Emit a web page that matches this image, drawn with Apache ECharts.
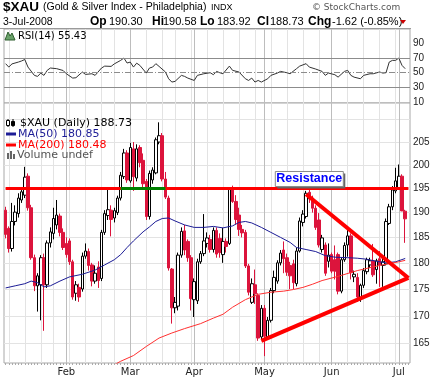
<!DOCTYPE html>
<html><head><meta charset="utf-8">
<script src="https://cdn.jsdelivr.net/npm/echarts@6/dist/echarts.min.js"></script>
<style>html,body{margin:0;padding:0;background:#fff}#c{width:438px;height:380px}</style>
</head><body><div id="c"></div>
<script>
// ---- calendar (trading days) ----
const holidays = ['2008-01-21','2008-02-18','2008-03-21','2008-05-26'];
const monthNames = ['Jan','Feb','Mar','Apr','May','Jun','Jul','Aug','Sep','Oct','Nov','Dec'];
// ---- price data ----
const openP  = [190.5,186.8,182.8,188.2,189.8,192.6,193.6,197.6,191.0,181.0,175.6,175.8,181.0,175.8,183.9,185.8,187.5,189.3,186.0,183.8,
184.3,180.2,174.2,175.3,175.0,181.3,182.2,179.6,176.5,179.2,177.0,186.0,189.4,190.5,188.9,190.0,193.0,197.5,202.6,196.6,
203.5,197.2,203.8,201.0,196.5,189.2,196.8,198.3,205.0,206.4,197.0,193.0,178.8,171.5,171.8,181.5,186.3,184.2,181.0,173.0,
172.8,180.2,181.8,183.8,184.6,182.6,186.4,184.8,181.6,184.2,183.8,195.2,192.3,189.5,186.6,186.0,179.4,172.5,175.8,173.8,
166.2,171.4,166.2,169.2,174.7,176.5,180.0,182.5,181.0,179.5,179.8,176.0,182.3,188.0,189.2,194.2,193.0,190.9,188.5,182.6,
183.5,180.3,181.6,180.6,181.6,174.6,180.6,183.5,185.3,177.3,177.2,173.1,175.7,178.3,179.6,180.4,178.7,180.8,179.5,179.8,
187.8,191.2,194.5,195.2,197.6,190.30];
const highP  = [191.2,187.2,192.0,191.5,194.0,195.2,199.6,198.2,191.6,181.6,178.0,181.5,181.8,184.4,187.0,191.0,192.6,189.8,186.8,185.0,
184.8,180.6,176.5,176.0,182.0,183.8,182.8,180.0,179.5,180.3,186.5,190.5,195.0,191.5,191.0,193.5,198.5,203.5,203.2,204.8,
205.0,204.5,204.3,202.5,197.0,198.8,199.5,206.0,209.4,207.0,198.5,193.5,179.0,173.5,182.0,187.0,187.5,184.6,181.5,177.0,
180.8,182.3,189.7,186.0,185.5,187.0,187.0,185.8,186.9,184.8,195.3,195.6,193.6,191.0,187.5,186.5,179.8,177.0,178.7,174.2,
172.0,172.0,169.8,175.2,178.5,180.5,182.5,184.2,181.8,180.2,180.6,183.0,189.0,190.5,194.5,195.5,193.5,191.5,189.9,185.5,
184.0,183.8,182.0,183.4,182.0,181.0,184.0,186.5,185.8,178.5,178.0,176.0,179.0,181.0,181.0,183.7,180.8,182.3,181.0,188.8,
191.8,195.5,199.4,200.1,198.0,190.58];
const lowP   = [184.8,182.0,182.2,187.4,189.0,192.0,193.0,190.4,180.6,174.6,170.8,169.2,167.3,175.2,183.0,184.6,186.6,185.2,182.5,181.0,
179.6,173.0,172.8,172.6,174.5,180.8,178.5,175.5,176.0,175.2,176.5,185.5,188.5,185.2,188.0,189.5,192.5,197.0,196.2,196.2,
194.5,196.5,199.5,195.0,188.5,188.6,196.0,198.0,204.5,196.5,192.8,178.5,168.6,170.5,171.0,181.0,181.5,180.2,171.0,169.8,
172.2,179.8,181.3,183.0,182.0,182.0,181.0,181.0,180.0,182.0,183.5,192.0,187.6,185.3,185.0,179.0,173.8,172.2,172.2,165.5,
165.8,162.8,165.8,168.8,174.2,176.0,179.5,178.0,177.5,175.0,175.0,175.5,182.0,187.2,188.8,192.0,190.0,186.5,183.0,182.0,
177.5,179.1,178.0,176.8,174.0,174.2,180.2,181.2,176.8,176.3,172.6,172.6,175.2,177.8,179.0,177.3,176.0,175.4,175.4,179.5,
187.5,190.5,194.0,194.8,190.3,183.92];
const closeP = [185.6,182.8,188.2,190.1,193.0,194.3,197.4,191.0,181.0,175.6,177.5,181.0,175.8,183.9,186.1,188.8,189.5,186.0,183.0,181.6,
180.2,173.5,175.8,173.5,181.3,182.3,179.5,176.5,178.0,176.6,186.0,189.8,190.6,188.6,190.4,193.0,197.8,202.6,196.8,203.8,
197.5,203.5,200.5,196.0,189.2,198.2,198.9,205.5,206.4,197.0,193.2,179.0,171.5,172.5,181.5,186.2,182.5,181.0,173.2,176.4,
180.2,181.8,184.3,184.9,182.6,186.4,181.7,182.0,184.2,183.2,195.0,192.3,188.6,186.6,185.9,179.4,174.4,176.0,174.1,166.0,
171.4,166.3,169.2,174.7,177.2,180.0,181.9,180.8,178.2,177.5,176.2,182.3,188.3,189.7,194.0,192.8,190.9,187.0,183.5,184.9,
178.0,181.5,178.4,178.4,174.6,180.6,183.4,185.3,178.1,177.8,173.5,175.7,178.5,180.6,180.4,177.7,180.4,179.6,180.2,188.2,
191.2,194.7,196.6,197.6,190.35,188.73];
// moving averages read at points [dayIndex, value]
const ma50 = [[0,175.2],[3,175.6],[6,176.0],[8,176.5],[10,176.2],[12,175.4],[14,175.6],[17,176.5],[20,177.3],[24,177.8],[28,178.6],[31,179.6],
[34,180.6],[36,181.6],[38,183.0],[40,184.3],[43,186.1],[45,187.1],[47,188.2],[49,188.8],[51,188.9],[53,188.3],[56,187.5],[59,187.0],[62,187.0],
[65,187.2],[68,186.9],[71,187.3],[73,188.0],[75,188.2],[77,187.9],[80,187.0],[83,186.0],[86,185.0],[89,184.0],[91,183.0],[94,182.6],[97,182.2],
[100,181.4],[103,181.1],[107,181.0],[110,180.9],[113,180.7],[116,180.3],[119,180.0],[122,180.2],[125,180.85]];
const ma200 = [[33,161.0],[36,161.9],[40,162.9],[44,164.5],[48,166.0],[52,166.9],[56,167.7],[61,168.6],[65,169.6],[68,170.3],[71,171.6],
[75,173.0],[79,174.0],[83,174.4],[87,174.6],[90,174.9],[93,175.3],[96,175.9],[99,176.6],[104,177.4],[110,178.5],[117,179.5],[123,180.2],[125,180.48]];
const rsi = [[0,62.3],[1,57.7],[2,62],[4,64.5],[5,66],[6,68],[7,57.7],[9,46.4],[10,45],[11,49.5],[12,46.4],[13,53.2],[14,56.4],[16,55.5],
[18,53],[19,48.6],[21,42.7],[22,43.2],[24,51],[25,47.7],[27,48.6],[28,46.4],[30,56.4],[31,59],[33,58.6],[34,62],[36,66.8],[37,70],[38,63.2],
[39,64.5],[40,57.7],[41,63],[42,60],[44,49.5],[45,56.4],[46,57.7],[47,62.3],[48,58.6],[50,51],[51,41.8],[52,37.3],[53,38.2],[55,46.4],[56,45],
[57,42.7],[59,39.5],[60,46.4],[62,48.6],[64,50],[65,47.3],[66,51.8],[67,50],[68,48.6],[70,59],[71,53.2],[73,51],[75,41.8],[76,39.5],[77,42.7],
[78,37.3],[79,39.5],[80,37.3],[82,41.8],[83,46.4],[85,49.5],[86,51.8],[88,50],[89,48.6],[91,55.5],[92,59],[94,62.3],[95,57.7],[97,55],[99,51.8],
[100,46.4],[101,49.5],[103,47.3],[104,44],[106,51.8],[107,53.2],[108,46.4],[109,44],[111,41.8],[112,46.4],[114,48.6],[115,48.6],[117,51],
[118,49.5],[119,50],[120,64.5],[121,66.8],[122,66.8],[123,70],[124,60],[125,55.43]];
// ticks / annotations
const priceLabels = [165,170,175,180,185,190,195,200,205];
const priceGrid = [165,170,175,180,185,190,195,200,205,210];
const rsiLabels = [10,30,50,70,90];
const resistance = 195;
const greenSpans = [[5.6,6.4],[36,50],[122.8,123.3]];
const triUpper = [[94.3,193.8],[125.6,177.1]];
const triLower = [[80.2,165.5],[125.6,177.1]];

// build categories
const cats = [];
(function(){
  let t = Date.UTC(2008,0,4); const end = Date.UTC(2008,6,3);
  while (t <= end) {
    const d = new Date(t); const s = d.toISOString().slice(0,10); const wd = d.getUTCDay();
    if (wd !== 0 && wd !== 6 && holidays.indexOf(s) < 0) cats.push(s);
    t += 86400000;
  }
})();
const nData = cats.length;
cats.push('2008-07-07');
function monthStart(i){ return i > 0 && i < nData && cats[i].slice(5,7) !== cats[i-1].slice(5,7); }
function weekStart(i){ if (i <= 0 || i >= nData) return false;
  const a = new Date(cats[i]+'T00:00:00Z').getUTCDay(), b = new Date(cats[i-1]+'T00:00:00Z').getUTCDay(); return a <= b; }

const candles = closeP.map((c,i)=>[openP[i], c, lowP[i], highP[i]]);
const L = 4, R = 28;
const RED = '#dc143c';

function xCat(gridIndex, kind, pos){
  return {type:'category', gridIndex, data:cats, boundaryGap:true, position:pos,
    axisLine:{show:false}, axisTick:{show:false}, axisLabel:{show:false},
    splitLine:{show:true, alignWithLabel:true, interval:(i)=> kind==='m' ? monthStart(i) : weekStart(i),
      lineStyle:{color: kind==='m' ? '#bdbdbd' : '#e3e3e3', width:1}}};
}
const xAxes = [xCat(0,'w','bottom'), xCat(0,'m','top'), xCat(1,'w','bottom'), xCat(1,'m','top')];
xAxes[2].axisLabel = {show:true, interval:(i)=>monthStart(i), formatter:(v)=>monthNames[+v.slice(5,7)-1],
  fontFamily:'DejaVu Sans', fontSize:10, color:'#222', margin:4};
xAxes[2].axisTick = {show:true, interval:0, length:2, alignWithLabel:true, lineStyle:{color:'#aaa'}};

const chart = echarts.init(document.getElementById('c'));
chart.setOption({
  animation:false,
  backgroundColor:'#fff',
  grid:[{left:L, right:R, top:29, height:74, show:true, borderColor:'#a8a8a8', borderWidth:1, backgroundColor:'#fff'},
        {left:L, right:R, top:103, height:260, show:true, borderColor:'#a8a8a8', borderWidth:1, backgroundColor:'#fff'}],
  xAxis: xAxes,
  yAxis:[
    {type:'value', gridIndex:0, position:'right', min:8.8, max:109.5,
      axisLine:{show:false}, axisTick:{show:false}, splitLine:{show:false},
      axisLabel:{customValues:rsiLabels, fontFamily:'Liberation Sans', fontSize:10, color:'#222', margin:3}},
    {type:'log', logBase:10, gridIndex:1, position:'right', min:161.6, max:213.8,
      axisLine:{show:false}, axisTick:{show:false, customValues:priceGrid},
      splitLine:{show:true, lineStyle:{color:'#e3e3e3'}},
      axisLabel:{customValues:priceLabels, fontFamily:'Liberation Sans', fontSize:10, color:'#222', margin:3}}
  ],
  series:[
    {type:'line', xAxisIndex:0, yAxisIndex:0, data:rsi, symbol:'none', connectNulls:true,
      lineStyle:{color:'#333', width:1}, z:3,
      markLine:{silent:true, symbol:'none', label:{show:false},
        data:[{yAxis:70, lineStyle:{color:'#8c8c8c', type:'solid', width:1}},
              {yAxis:30, lineStyle:{color:'#8c8c8c', type:'solid', width:1}},
              {yAxis:50, lineStyle:{color:'#8c8c8c', type:[6,2,1,2], width:1}}]}},
    {type:'candlestick', name:'$XAU', xAxisIndex:2, yAxisIndex:1, data:candles, barWidth:3, z:2,
      itemStyle:{color:'#ffffff', color0:RED, borderColor:'#000000', borderColor0:RED, borderWidth:1}},
    {type:'line', xAxisIndex:2, yAxisIndex:1, data:ma50, symbol:'none', lineStyle:{color:'#1c1c96', width:1}, z:3},
    {type:'line', xAxisIndex:2, yAxisIndex:1, data:ma200, symbol:'none', lineStyle:{color:'#ff3030', width:1}, z:3},
    {type:'line', xAxisIndex:2, yAxisIndex:1, data:[[0,resistance],[nData,resistance]], symbol:'none',
      lineStyle:{color:'#ff0000', width:3}, z:4},
  ].concat(greenSpans.map(s=>({type:'line', xAxisIndex:2, yAxisIndex:1, data:[[s[0],resistance],[s[1],resistance]],
      symbol:'none', lineStyle:{color:'#008000', width:3}, z:5})))
   .concat([triUpper, triLower].map(t=>({type:'line', xAxisIndex:2, yAxisIndex:1, data:t, symbol:'none',
      lineStyle:{color:'#ff0000', width:4}, z:6})))
});

// ---- annotation + header text ----
const anchor = chart.convertToPixel({xAxisIndex:2, yAxisIndex:1}, [94.5, resistance]);
const bx = anchor[0] - 34, by = anchor[1] - 17;
const T = (x,y,text,font,color,extra)=>Object.assign({type:'text', x, y, style:{text, font, fill:color||'#000', textVerticalAlign:'middle'}}, extra||{});
const DJ = "'DejaVu Sans'", LS = "'Liberation Sans'";
const g = [
  {type:'line', shape:{x1:0,y1:28.5,x2:411,y2:28.5}, style:{stroke:'#9a9a9a', lineWidth:1}},
  T(3,7,'$XAU','bold 13.5px '+LS),
  T(43,7,'(Gold & Silver Index - Philadelphia)','10.5px '+LS),
  T(211,7.5,'INDX','9px '+LS),
  T(312,7.5,'\u00a9 StockCharts.com','9px '+DJ,'#555'),
  T(3,22,'3-Jul-2008','10.5px '+LS),
  T(90,22,'Op','bold 12px '+LS), T(109,22,'190.30','11px '+LS),
  T(152,22,'Hi','bold 12px '+LS), T(163,22,'190.58','11px '+LS),
  T(200,22,'Lo','bold 12px '+LS), T(217,22,'183.92','11px '+LS),
  T(257,22,'Cl','bold 12px '+LS), T(270,22,'188.73','11px '+LS),
  T(308,22,'Chg','bold 12px '+LS), T(332,22,'-1.62 (-0.85%)','11px '+LS),
  {type:'polygon', shape:{points:[[400,20],[406,20],[403,24]]}, style:{fill:'#cc0000'}},
  // RSI label
  {type:'polygon', shape:{points:[[5,40],[8,32],[10,36],[12,33],[15,40]]}, style:{fill:'#6aa26a', stroke:'#2f5f2f', lineWidth:1}},
  T(18,36,'RSI(14) 55.43','10px '+DJ),
  // main legend
  {type:'line', shape:{x1:8,y1:119,x2:8,y2:127}, style:{stroke:'#000'}},
  {type:'rect', shape:{x:6.5,y:120.5,width:3,height:5}, style:{fill:'#fff', stroke:'#000'}},
  {type:'line', shape:{x1:13,y1:119,x2:13,y2:127}, style:{stroke:'#000'}},
  {type:'rect', shape:{x:11.5,y:121.5,width:3,height:4}, style:{fill:'#000', stroke:'#000'}},
  T(20,123,'$XAU (Daily) 188.73','11px '+DJ),
  {type:'line', shape:{x1:6,y1:134,x2:16,y2:134}, style:{stroke:'#1c1c96', lineWidth:3}},
  T(18,134,'MA(50) 180.85','11px '+DJ,'#1c1c96'),
  {type:'line', shape:{x1:6,y1:145,x2:16,y2:145}, style:{stroke:'#ff0000', lineWidth:3}},
  T(18,145,'MA(200) 180.48','11px '+DJ,'#ff0000'),
  {type:'rect', shape:{x:7,y:153,width:2,height:6}, style:{fill:'#666'}},
  {type:'rect', shape:{x:10,y:151,width:2,height:8}, style:{fill:'#666'}},
  {type:'rect', shape:{x:13,y:154,width:2,height:5}, style:{fill:'#666'}},
  T(17,155.5,'Volume undef','11px '+DJ,'#555'),
  // Resistance box
  {type:'rect', z:50, shape:{x:bx+2, y:by+2, width:68, height:15}, style:{fill:'#666'}},
  {type:'rect', z:51, shape:{x:bx, y:by, width:68, height:15}, style:{fill:'#fff', stroke:'#8a8a8a', lineWidth:1}},
  Object.assign(T(bx+34, by+7.5, 'Resistance', 'bold 12.5px '+LS, '#0000ff'), {z:52, style:{text:'Resistance', font:'bold 12.5px '+LS, fill:'#0000ff', textAlign:'center', textVerticalAlign:'middle'}})
];
chart.setOption({graphic: g.map(e=>Object.assign({silent:true}, e, {z: e.z || 40}))});
</script></body></html>
